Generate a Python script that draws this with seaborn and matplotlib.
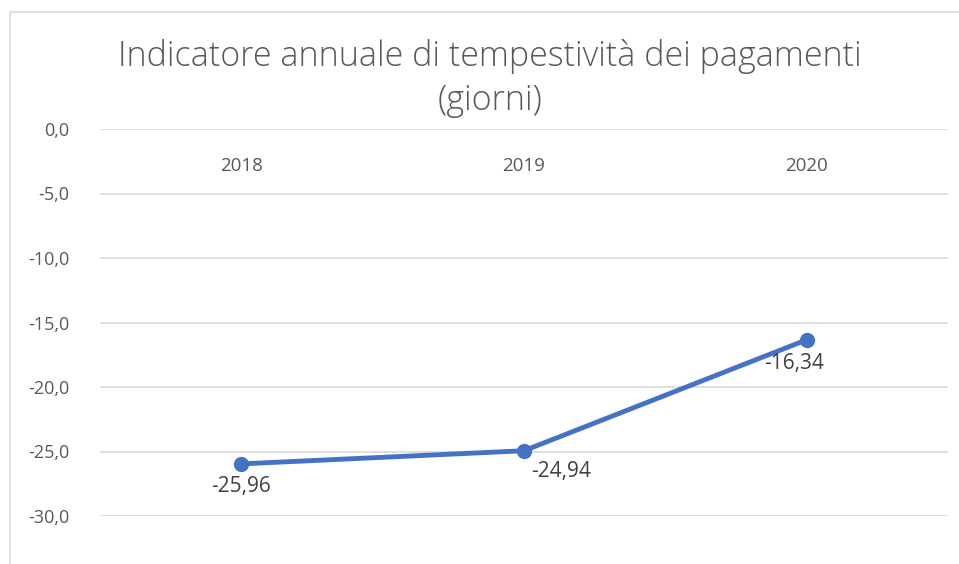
import matplotlib
matplotlib.use("Agg")
import matplotlib.pyplot as plt
import seaborn as sns
import pandas as pd
from matplotlib.ticker import FuncFormatter
from matplotlib.patches import Rectangle

years = ["2018", "2019", "2020"]
values = [-25.96, -24.94, -16.34]
value_labels = ["-25,96", "-24,94", "-16,34"]
y_ticks = [0, -5, -10, -15, -20, -25, -30]

sns.set_theme(style="white")
plt.rcParams['font.family'] = ['Open Sans', 'DejaVu Sans']

fig = plt.figure(figsize=(9.59, 5.64), dpi=100)
ax = fig.add_axes([100/959, 1-516/564, 848/959, 387/564])

df = pd.DataFrame({"pos": range(len(years)), "val": values})
sns.lineplot(data=df, x="pos", y="val", ax=ax, color="#4472C4", linewidth=3.5,
             marker="o", markersize=11, markeredgewidth=0, zorder=3)

ax.set_xlim(-0.5, len(years) - 0.5)
ax.set_ylim(-30, 0)
ax.set_yticks(y_ticks)
ax.yaxis.set_major_formatter(FuncFormatter(lambda v, p: f"{v:.1f}".replace(".", ",").replace("-0,0", "0,0")))
ax.grid(axis="y", color="#D9D9D9", linewidth=1.2)
ax.set_xticks(range(len(years)))
ax.set_xticklabels(years)
ax.xaxis.tick_top()
ax.tick_params(axis="x", length=0, pad=-33, labelsize=13.5, labelcolor="#595959")
ax.tick_params(axis="y", length=0, pad=22, labelsize=13, labelcolor="#595959")
for s in ax.spines.values():
    s.set_visible(False)
ax.set_xlabel("")
ax.set_ylabel("")

offsets = [(0, -16), (27, -15), (-9, -17)]
for i, (v, lab) in enumerate(zip(values, value_labels)):
    ax.annotate(lab, (i, v), xytext=offsets[i], textcoords="offset points",
                ha="center", va="center", fontsize=15, color="#404040")

fig.text(490/959, 1-57/564, "Indicatore annuale di tempestività dei pagamenti",
         ha="center", va="center", fontsize=24.5, color="#595959", fontweight="light")
fig.text(490/959, 1-101/564, "(giorni)",
         ha="center", va="center", fontsize=24.5, color="#595959", fontweight="light")

fig.patches.append(Rectangle((10/959, -0.1), 1.2, 1 - 12/564 + 0.1, transform=fig.transFigure,
                             fill=False, edgecolor="#D9D9D9", linewidth=1.2))

fig.savefig("out.png", dpi=100)
